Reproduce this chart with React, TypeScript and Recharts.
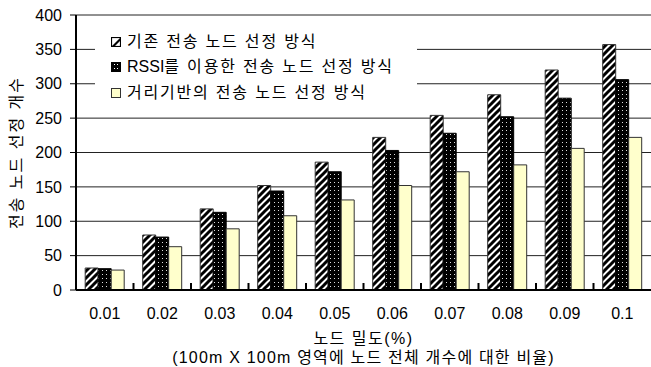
import React from 'react';
import { BarChart, Bar, XAxis, YAxis, CartesianGrid, Legend } from 'recharts';

const categories = ['0.01', '0.02', '0.03', '0.04', '0.05', '0.06', '0.07', '0.08', '0.09', '0.1'];
const existingValues = [32, 80, 118, 152, 186, 222, 254, 284, 320, 357];
const rssiValues = [31, 77, 113, 144, 172, 203, 228, 252, 279, 306];
const distanceValues = [29, 63, 89, 108, 131, 152, 172, 182, 206, 222];
const yTicks = [0, 50, 100, 150, 200, 250, 300, 350, 400];

const seriesNames = ['기존 전송 노드 선정 방식', 'RSSI를 이용한 전송 노드 선정 방식', '거리기반의 전송 노드 선정 방식'];
const yTitle = '전송 노드 선정 개수';
const xTitle1 = '노드 밀도(%)';
const xTitle2 = '(100m X 100m 영역에 노드 전체 개수에 대한 비율)';

const data = categories.map((c, i) => ({
  cat: c,
  a: existingValues[i],
  b: rssiValues[i],
  c: distanceValues[i],
}));

const FONT = '"Liberation Sans", "Noto Sans CJK KR", sans-serif';

const XTick = (props: any) => {
  const { x, y, payload, index, visibleTicksCount } = props;
  const half = payload && typeof payload.offset === 'number' ? payload.offset : 0;
  const axisY = y - 14;
  const bx = x + half;
  const last = index >= (visibleTicksCount ?? categories.length) - 1;
  return (
    <g>
      <text x={x} y={y + 15} textAnchor="middle" fontFamily={FONT} fontSize={16} fill="#000">
        {payload.value}
      </text>
      {!last && <rect x={bx - 1} y={axisY - 7} width={2} height={7} fill="#000" />}
    </g>
  );
};

const LegendIcon = ({ kind }: { kind: number }) => {
  if (kind === 0) {
    return (
      <svg width={10} height={10} style={{ display: 'block' }}>
        <rect x={0.5} y={0.5} width={9} height={9} fill="#fff" stroke="#000" strokeWidth={1.2} />
        <path d="M1,9 L9,1 L9,4 L4,9 Z" fill="#000" />
      </svg>
    );
  }
  if (kind === 1) {
    return (
      <svg width={10} height={10} style={{ display: 'block' }}>
        <rect x={0} y={0} width={10} height={10} fill="#000" />
        <rect x={3} y={2} width={1} height={1} fill="#fff" />
        <rect x={6} y={2} width={1} height={1} fill="#fff" />
        <rect x={3} y={6} width={1} height={1} fill="#fff" />
        <rect x={6} y={6} width={1} height={1} fill="#fff" />
      </svg>
    );
  }
  return (
    <svg width={10} height={10} style={{ display: 'block' }}>
      <rect x={0.5} y={0.5} width={9} height={9} fill="#FFFFCC" stroke="#333" strokeWidth={1} />
    </svg>
  );
};

const renderName = (n: string) => {
  const m = n.match(/^([A-Za-z]+)(.*)$/);
  if (m) {
    return (
      <>
        <span style={{ letterSpacing: 0 }}>{m[1]}</span>
        {m[2]}
      </>
    );
  }
  return n;
};

const LegendContent = () => (
  <div style={{ fontFamily: FONT, fontSize: 16, letterSpacing: 1.8, color: '#000', paddingLeft: 16, paddingTop: 3 }}>
    {seriesNames.map((n, i) => (
      <div key={n} style={{ display: 'flex', alignItems: 'center', height: 25.5 }}>
        <LegendIcon kind={i} />
        <span style={{ marginLeft: 6, lineHeight: '20px' }}>{renderName(n)}</span>
      </div>
    ))}
  </div>
);

export default function App() {
  return (
    <div style={{ position: 'absolute', left: 0, top: 0, width: 651, height: 367, background: '#fff' }}>
      <BarChart
        width={651}
        height={367}
        data={data}
        margin={{ top: 15, right: 0, left: 0, bottom: 0 }}
        barCategoryGap="16%"
        barGap={0}
      >
        <defs>
          <pattern id="diag" patternUnits="userSpaceOnUse" width={7} height={7}>
            <rect x={0} y={0} width={7} height={7} fill="#fff" />
            <path d="M-2,2 L2,-2 M0,7 L7,0 M5,9 L9,5" stroke="#000" strokeWidth={3} />
          </pattern>
          <pattern id="dots" patternUnits="userSpaceOnUse" width={4} height={4}>
            <rect x={0} y={0} width={4} height={4} fill="#000" />
            <rect x={2} y={2} width={1} height={1} fill="#ddd" />
          </pattern>
        </defs>
        <CartesianGrid vertical={false} stroke="#222" strokeWidth={1} />
        <XAxis
          dataKey="cat"
          height={77}
          tickLine={false}
          tickSize={0}
          tickMargin={14}
          axisLine={{ stroke: '#000', strokeWidth: 2 }}
          tick={<XTick />}
          interval={0}
          label={{
            content: (p: any) => {
              const vb = p.viewBox;
              const cx = vb.x + vb.width / 2;
              return (
                <g>
                  <text x={cx} y={vb.y + 54} textAnchor="middle" fontFamily={FONT} fontSize={16} letterSpacing={1.5} fill="#000">
                    {xTitle1}
                  </text>
                  <text x={cx} y={vb.y + 73} textAnchor="middle" fontFamily={FONT} fontSize={16} letterSpacing={1.2} fill="#000">
                    {xTitle2}
                  </text>
                </g>
              );
            },
          }}
        />
        <YAxis
          width={76}
          domain={[0, 400]}
          ticks={yTicks}
          interval={0}
          tickSize={6}
          tickMargin={8}
          tickLine={{ stroke: '#000', strokeWidth: 1 }}
          axisLine={{ stroke: '#000', strokeWidth: 2 }}
          tick={{ fontFamily: FONT, fontSize: 16, fill: '#000' }}
          label={{
            content: (p: any) => {
              const vb = p.viewBox;
              const cx = 16;
              const cy = vb.y + vb.height / 2;
              return (
                <text
                  x={cx}
                  y={cy}
                  transform={`rotate(-90 ${cx} ${cy})`}
                  textAnchor="middle"
                  dominantBaseline="central"
                  fontFamily={FONT}
                  fontSize={16}
                  letterSpacing={2}
                  fill="#000"
                >
                  {yTitle}
                </text>
              );
            },
          }}
        />
        <Legend
          layout="vertical"
          align="center"
          verticalAlign="middle"
          content={<LegendContent />}
          wrapperStyle={{ position: 'absolute', left: 95, top: 26, width: 322, height: 78, background: '#fff' }}
        />
        <Bar dataKey="a" fill="url(#diag)" stroke="#333" strokeWidth={1} isAnimationActive={false} />
        <Bar dataKey="b" fill="url(#dots)" stroke="#000" strokeWidth={1} isAnimationActive={false} />
        <Bar dataKey="c" fill="#FFFFCC" stroke="#333" strokeWidth={1} isAnimationActive={false} />
      </BarChart>
    </div>
  );
}
